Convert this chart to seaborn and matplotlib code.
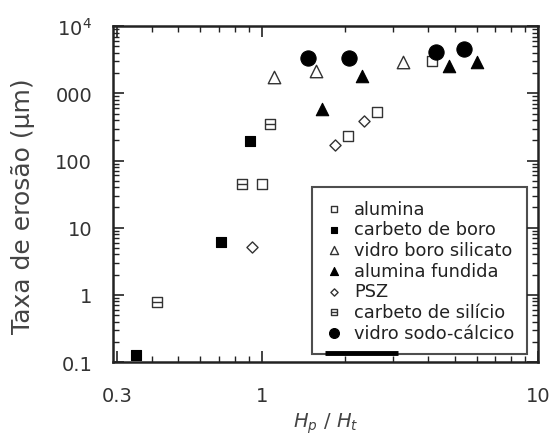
import matplotlib
matplotlib.use("Agg")
import matplotlib.pyplot as plt
from matplotlib.path import Path
from matplotlib.ticker import LogLocator, FixedLocator, FixedFormatter, NullFormatter
import numpy as np
import pandas as pd
import seaborn as sns

# Erosion rate vs. hardness ratio Hp/Ht for several ceramics
alumina_x = [1.00, 2.05, 2.61, 4.13]
alumina_y = [44.6, 231, 525, 3000]

carbeto_boro_x = [0.352, 0.716, 0.905]
carbeto_boro_y = [0.127, 6.1, 194]

vidro_borosilicato_x = [1.11, 1.58, 3.24]
vidro_borosilicato_y = [1740, 2140, 2910]

alumina_fundida_x = [1.65, 2.30, 4.76, 6.01]
alumina_fundida_y = [582, 1800, 2540, 2910]

psz_x = [0.92, 1.85, 2.34]
psz_y = [5.1, 169, 385]

carbeto_silicio_x = [0.42, 0.847, 1.07]
carbeto_silicio_y = [0.78, 44.6, 348]

vidro_sodo_x = [1.47, 2.08, 4.27, 5.39]
vidro_sodo_y = [3340, 3340, 4100, 4550]

series_names = ["alumina", "carbeto de boro", "vidro boro silicato",
                "alumina fundida", "PSZ", "carbeto de silício",
                "vidro sodo-cálcico"]

y_tick_values = [0.1, 1, 10, 100, 1000, 10000]
y_tick_labels = ["0.1", "1", "10", "100", "000", r"10$^4$"]
x_tick_values = [0.3, 1, 10]
x_tick_labels = ["0.3", "1", "10"]

# square with a horizontal bar through the middle
boxed_bar = Path(
    [(-1, -1), (1, -1), (1, 1), (-1, 1), (-1, -1), (-1, 0), (1, 0)],
    [Path.MOVETO, Path.LINETO, Path.LINETO, Path.LINETO, Path.CLOSEPOLY,
     Path.MOVETO, Path.LINETO],
)

frames = []
data_sets = [
    (alumina_x, alumina_y), (carbeto_boro_x, carbeto_boro_y),
    (vidro_borosilicato_x, vidro_borosilicato_y),
    (alumina_fundida_x, alumina_fundida_y), (psz_x, psz_y),
    (carbeto_silicio_x, carbeto_silicio_y), (vidro_sodo_x, vidro_sodo_y),
]
for name, (xs, ys) in zip(series_names, data_sets):
    frames.append(pd.DataFrame({"x": xs, "y": ys, "material": name}))
df = pd.concat(frames, ignore_index=True)

styles = {
    "alumina": dict(marker="s", s=60, facecolor="white", edgecolor="#333333", linewidth=1.0),
    "carbeto de boro": dict(marker="s", s=60, facecolor="black", edgecolor="black", linewidth=0.8),
    "vidro boro silicato": dict(marker="^", s=80, facecolor="white", edgecolor="#333333", linewidth=1.0),
    "alumina fundida": dict(marker="^", s=80, facecolor="black", edgecolor="black", linewidth=0.8),
    "PSZ": dict(marker="D", s=32, facecolor="white", edgecolor="#333333", linewidth=1.0),
    "carbeto de silício": dict(marker=boxed_bar, s=55, facecolor="white", edgecolor="#333333", linewidth=1.0),
    "vidro sodo-cálcico": dict(marker="o", s=120, facecolor="black", edgecolor="black", linewidth=0.8),
}

sns.set_style("ticks")
plt.rcParams["font.family"] = ["DejaVu Sans"]

fig = plt.figure(figsize=(5.54, 4.39), dpi=100)
ax = fig.add_axes([0.204, 0.173, 0.767, 0.765])

for name in series_names:
    sub = df[df["material"] == name]
    sns.scatterplot(data=sub, x="x", y="y", ax=ax, label=name, zorder=3,
                    **styles[name])

ax.set_xscale("log")
ax.set_yscale("log")
ax.set_xlim(0.29, 10)
ax.set_ylim(0.1, 10000)

ax.xaxis.set_major_locator(FixedLocator(x_tick_values))
ax.xaxis.set_major_formatter(FixedFormatter(x_tick_labels))
ax.xaxis.set_minor_locator(LogLocator(base=10, subs=np.arange(2, 10)))
ax.xaxis.set_minor_formatter(NullFormatter())
ax.yaxis.set_major_locator(FixedLocator(y_tick_values))
ax.yaxis.set_major_formatter(FixedFormatter(y_tick_labels))
ax.yaxis.set_minor_locator(LogLocator(base=10, subs=np.arange(2, 10)))
ax.yaxis.set_minor_formatter(NullFormatter())

ax.tick_params(which="both", direction="in", top=True, right=True,
               colors="#222222", labelcolor="#333333")
ax.tick_params(which="major", length=8, width=1.2, labelsize=14)
ax.tick_params(axis="y", which="major", pad=15)
ax.tick_params(axis="x", which="major", pad=17)
ax.tick_params(which="minor", length=4, width=1.0)
for sp in ax.spines.values():
    sp.set_linewidth(1.8)
    sp.set_color("#222222")

ax.set_xlabel(r"$H_p\ /\ H_t$", fontsize=14, color="#444444", labelpad=4)
ax.set_ylabel("Taxa de erosão (µm)", fontsize=18, color="#444444")
ax.yaxis.set_label_coords(-0.184, 0.467)

leg = ax.legend(loc="lower right", bbox_to_anchor=(0.974, 0.024),
                borderaxespad=0, fontsize=12.8, frameon=True, fancybox=False,
                labelspacing=0.15, handletextpad=0.6, handlelength=1.1,
                borderpad=0.7, markerscale=0.65)
leg.get_frame().set_edgecolor("#222222")
leg.get_frame().set_linewidth(1.5)
for t in leg.get_texts():
    t.set_color("#222222")

# heavier stroke along part of the legend's lower edge
ax.plot([0.499, 0.671], [0.028, 0.028], transform=ax.transAxes,
        color="black", linewidth=3.5, solid_capstyle="butt", zorder=10,
        clip_on=False)

fig.savefig("out.png", dpi=100)
